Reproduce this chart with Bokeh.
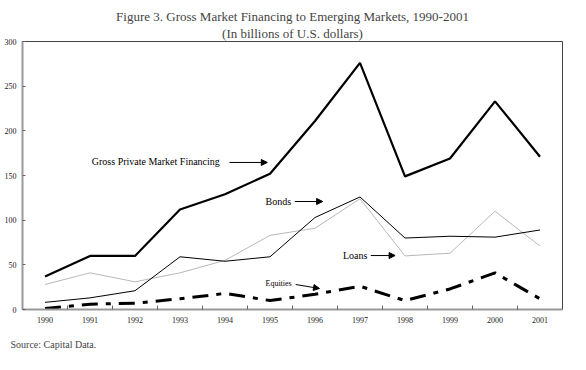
from bokeh.plotting import figure
from bokeh.models import Label, Arrow, NormalHead, FixedTicker, Range1d, Title
from bokeh.embed import file_html
from bokeh.resources import INLINE

years = [1990, 1991, 1992, 1993, 1994, 1995, 1996, 1997, 1998, 1999, 2000, 2001]
gross_private = [37, 60, 60, 112, 129, 152, 211, 276, 149, 169, 233, 171]
bonds = [8, 13, 21, 59, 54, 59, 103, 126, 80, 82, 81, 89]
loans = [28, 41, 31, 41, 55, 83, 91, 124, 60, 63, 110, 71]
equities = [1, 6, 7, 12, 18, 10, 17, 26, 10, 23, 41, 12]
y_ticks = [0, 50, 100, 150, 200, 250, 300]
x_boundaries = [y + 0.5 for y in years[:-1]]

FONT = "Liberation Serif"

p = figure(frame_width=540, frame_height=268, output_backend="svg", toolbar_location=None,
           x_range=Range1d(years[0] - 0.5, years[-1] + 0.5),
           y_range=Range1d(0, 300),
           min_border_left=22, min_border_right=12,
           min_border_top=41, min_border_bottom=0)
p.background_fill_color = "white"
p.border_fill_color = "white"
p.outline_line_color = "#444444"
p.outline_line_width = 1
p.xgrid.visible = False
p.ygrid.visible = False

# titles (added titles sit nearer the frame)
p.title.text = "Figure 3. Gross Market Financing to Emerging Markets, 1990-2001"
p.title.text_font = FONT
p.title.text_font_size = "13px"
p.title.text_font_style = "normal"
p.title.align = "center"
p.title.offset = 0
p.title.standoff = 0
p.add_layout(Title(text="(In billions of U.S. dollars)",
                   text_font=FONT, text_font_size="13px", text_font_style="normal",
                   align="center", offset=9, standoff=1), "above")
p.add_layout(Title(text="Source: Capital Data.", text_font=FONT, text_font_size="10px",
                   text_font_style="normal", align="left", offset=-12, standoff=23), "below")

xa = p.xaxis[0]
xa.ticker = FixedTicker(ticks=years, minor_ticks=x_boundaries)
xa.major_tick_in = 0
xa.major_tick_out = 0
xa.minor_tick_in = 4
xa.minor_tick_out = 0
xa.minor_tick_line_color = "#666666"
xa.axis_line_color = "#999999"
xa.axis_line_width = 2
xa.major_label_text_font = FONT
xa.major_label_text_font_size = "8px"
xa.major_label_text_color = "#222222"
xa.major_label_standoff = 7

ya = p.yaxis[0]
ya.ticker = FixedTicker(ticks=y_ticks)
ya.minor_tick_line_color = None
ya.major_tick_in = 3
ya.major_tick_out = 0
ya.major_tick_line_color = "#666666"
ya.axis_line_color = "#999999"
ya.axis_line_width = 2
ya.major_label_text_font = FONT
ya.major_label_text_font_size = "8px"
ya.major_label_text_color = "#222222"
ya.major_label_standoff = 6

p.line(years, loans, line_color="#b8b8b8", line_width=1)
p.line(years, bonds, line_color="black", line_width=1)
p.line(years, gross_private, line_color="black", line_width=2.2)
p.line(years, equities, line_color="black", line_width=3, line_dash="16 8 5 8")

# annotations
def note(x, y, txt, size="10px"):
    p.add_layout(Label(x=x, y=y, text=txt, text_font=FONT, text_font_size=size,
                       text_align="left", text_baseline="middle", text_color="black"))

def arrow(x0, y0, x1, y1):
    p.add_layout(Arrow(x_start=x0, y_start=y0, x_end=x1, y_end=y1,
                       line_color="black", line_width=1,
                       end=NormalHead(size=6, fill_color="black", line_color="black")))

note(1991.04, 165.7, "Gross Private Market Financing")
arrow(1994.10, 164.6, 1994.94, 164.6)
note(1994.90, 120.9, "Bonds")
arrow(1995.55, 120.9, 1996.17, 120.9)
note(1996.62, 60.4, "Loans")
arrow(1997.24, 60.4, 1997.78, 60.4)
note(1994.90, 29.5, "Equities", size="8px")
arrow(1995.57, 28.0, 1996.10, 23.5)

open("out.html", "w").write(file_html(p, INLINE))
